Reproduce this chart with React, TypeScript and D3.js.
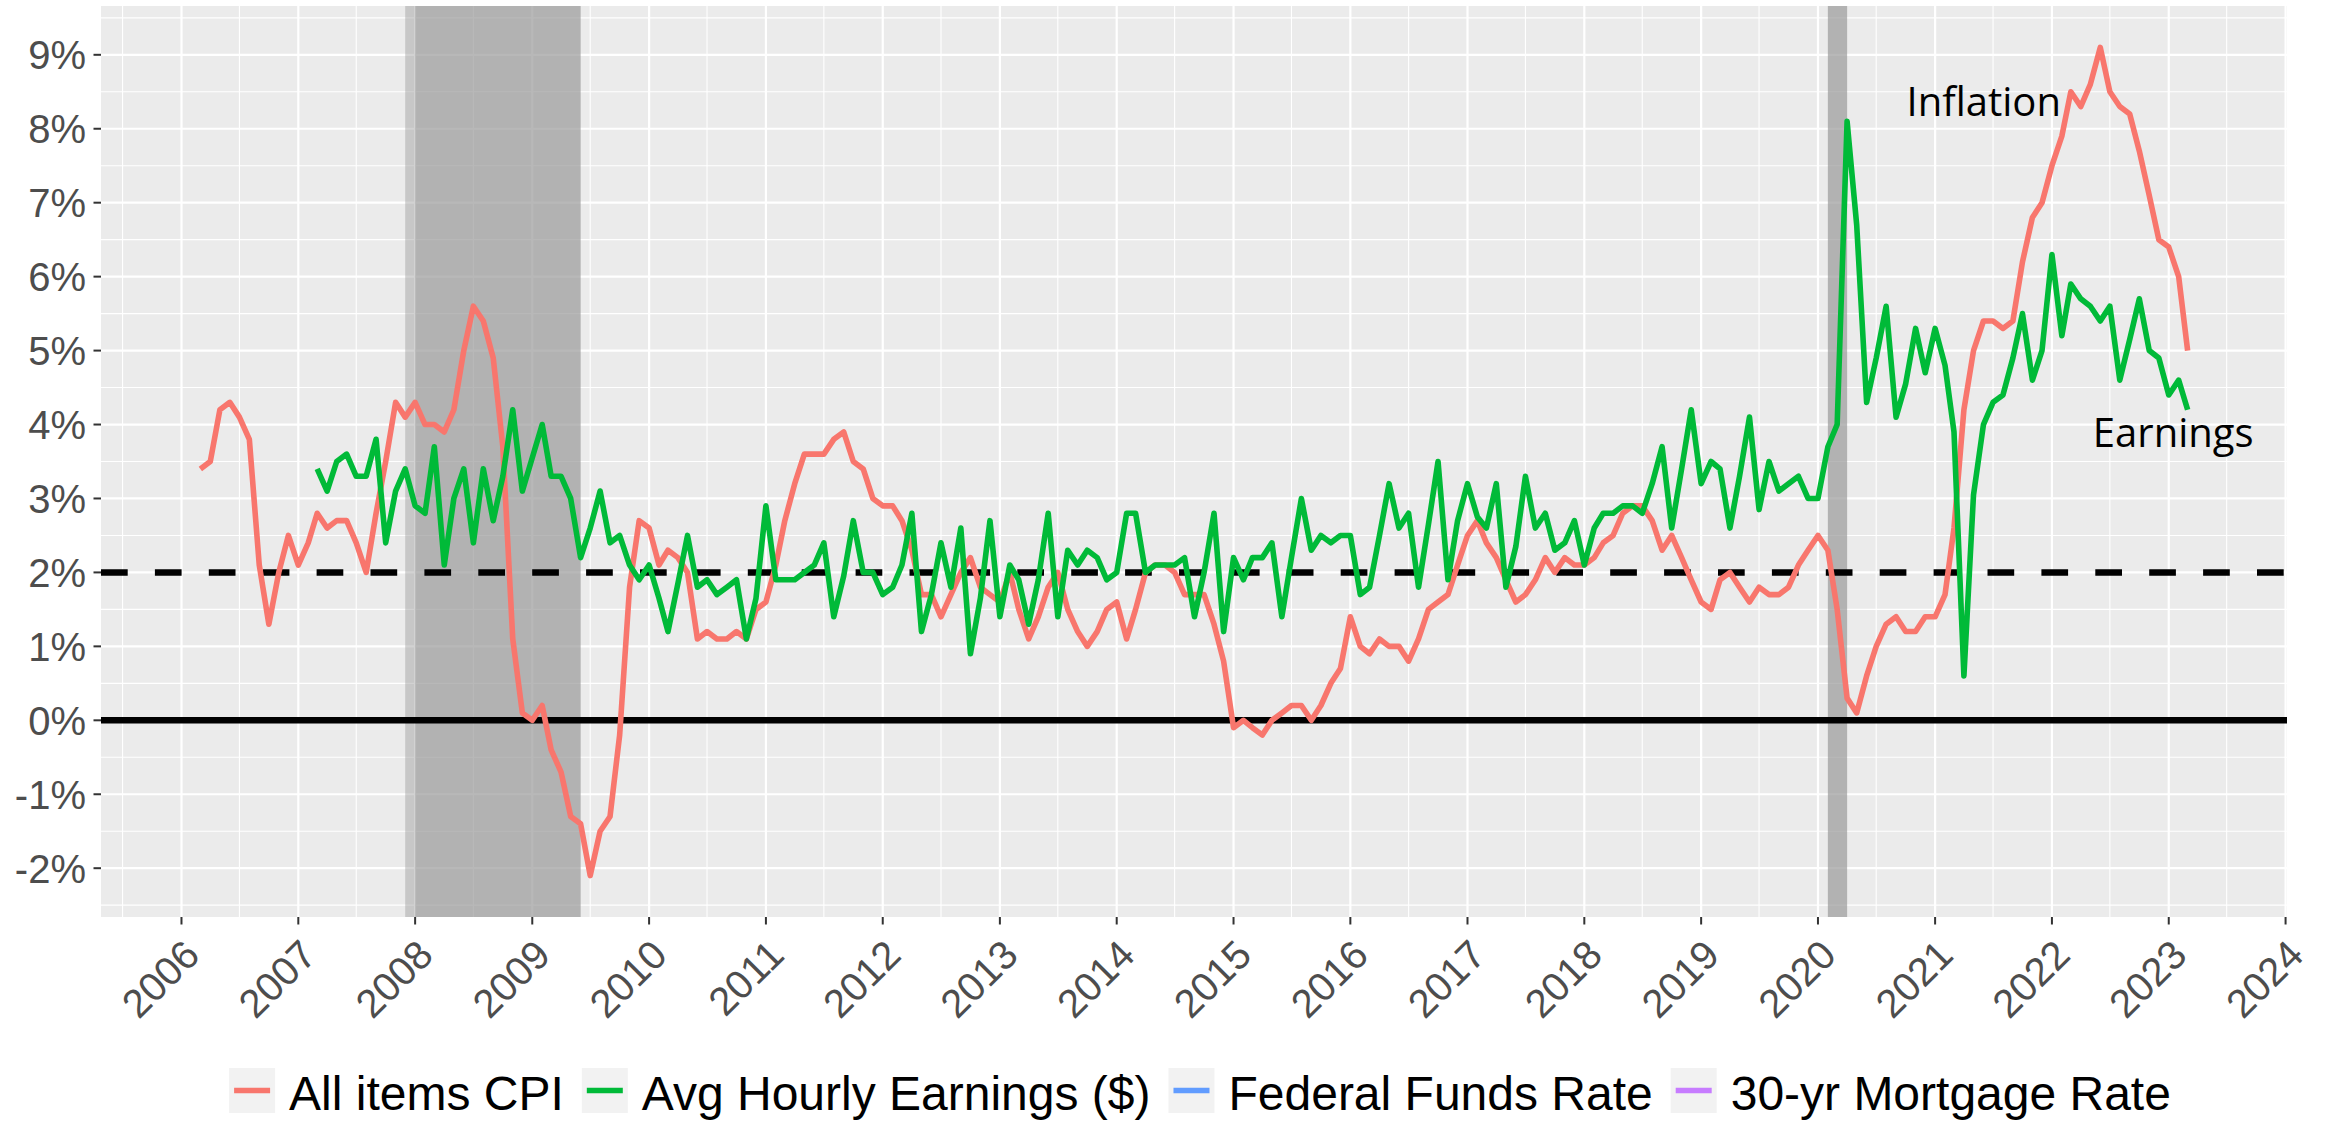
import React from "react";
import * as d3 from "d3";

// ---------- data ----------
const cpiStart = "2006-03-01";
const cpiValues = [
  3.4, 3.5, 4.2, 4.3, 4.1, 3.8, 2.1, 1.3, 2.0, 2.5,
  2.1, 2.4, 2.8, 2.6, 2.7, 2.7, 2.4, 2.0, 2.8, 3.5, 4.3, 4.1,
  4.3, 4.0, 4.0, 3.9, 4.2, 5.0, 5.6, 5.4, 4.9, 3.7, 1.1, 0.1,
  0.0, 0.2, -0.4, -0.7, -1.3, -1.4, -2.1, -1.5, -1.3, -0.2, 1.8, 2.7,
  2.6, 2.1, 2.3, 2.2, 2.0, 1.1, 1.2, 1.1, 1.1, 1.2, 1.1, 1.5,
  1.6, 2.1, 2.7, 3.2, 3.6, 3.6, 3.6, 3.8, 3.9, 3.5, 3.4, 3.0,
  2.9, 2.9, 2.7, 2.3, 1.7, 1.7, 1.4, 1.7, 2.0, 2.2, 1.8, 1.7,
  1.6, 2.0, 1.5, 1.1, 1.4, 1.8, 2.0, 1.5, 1.2, 1.0, 1.2, 1.5,
  1.6, 1.1, 1.5, 2.0, 2.1, 2.1, 2.0, 1.7, 1.7, 1.7, 1.3, 0.8,
  -0.1, 0.0, -0.1, -0.2, 0.0, 0.1, 0.2, 0.2, 0.0, 0.2, 0.5, 0.7,
  1.4, 1.0, 0.9, 1.1, 1.0, 1.0, 0.8, 1.1, 1.5, 1.6, 1.7, 2.1,
  2.5, 2.7, 2.4, 2.2, 1.9, 1.6, 1.7, 1.9, 2.2, 2.0, 2.2, 2.1,
  2.1, 2.2, 2.4, 2.5, 2.8, 2.9, 2.9, 2.7, 2.3, 2.5, 2.2, 1.9,
  1.6, 1.5, 1.9, 2.0, 1.8, 1.6, 1.8, 1.7, 1.7, 1.8, 2.1, 2.3,
  2.5, 2.3, 1.5, 0.3, 0.1, 0.6, 1.0, 1.3, 1.4, 1.2, 1.2, 1.4,
  1.4, 1.7, 2.6, 4.2, 5.0, 5.4, 5.4, 5.3, 5.4, 6.2, 6.8, 7.0,
  7.5, 7.9, 8.5, 8.3, 8.6, 9.1, 8.5, 8.3, 8.2, 7.7, 7.1, 6.5,
  6.4, 6.0, 5.0,
];

const earningsStart = "2007-03-01";
const earningsValues = [
  3.4, 3.1, 3.5, 3.6, 3.3, 3.3, 3.8, 2.4, 3.1, 3.4,
  2.9, 2.8, 3.7, 2.1, 3.0, 3.4, 2.4, 3.4, 2.7, 3.3, 4.2, 3.1,
  3.55, 4.0, 3.3, 3.3, 3.0, 2.2, 2.6, 3.1, 2.4, 2.5, 2.1, 1.9,
  2.1, 1.65, 1.2, 1.85, 2.5, 1.8, 1.9, 1.7, 1.8, 1.9, 1.1, 1.65,
  2.9, 1.9, 1.9, 1.9, 2.0, 2.1, 2.4, 1.4, 1.95, 2.7, 2.0, 2.0,
  1.7, 1.8, 2.1, 2.8, 1.2, 1.7, 2.4, 1.8, 2.6, 0.9, 1.65, 2.7,
  1.4, 2.1, 1.9, 1.3, 1.9, 2.8, 1.4, 2.3, 2.1, 2.3, 2.2, 1.9,
  2.0, 2.8, 2.8, 2.0, 2.1, 2.1, 2.1, 2.2, 1.4, 2.0, 2.8, 1.2,
  2.2, 1.9, 2.2, 2.2, 2.4, 1.4, 2.2, 3.0, 2.3, 2.5, 2.4, 2.5,
  2.5, 1.7, 1.8, 2.5, 3.2, 2.6, 2.8, 1.8, 2.65, 3.5, 1.9, 2.7,
  3.2, 2.75, 2.6, 3.2, 1.8, 2.35, 3.3, 2.6, 2.8, 2.3, 2.4, 2.7,
  2.1, 2.6, 2.8, 2.8, 2.9, 2.9, 2.8, 3.2, 3.7, 2.6, 3.4, 4.2,
  3.2, 3.5, 3.4, 2.6, 3.3, 4.1, 2.85, 3.5, 3.1, 3.2, 3.3, 3.0,
  3.0, 3.7, 4.0, 8.1, 6.7, 4.3, 4.9, 5.6, 4.1, 4.55, 5.3, 4.7,
  5.3, 4.8, 3.9, 0.6, 3.05, 4.0, 4.3, 4.4, 4.9, 5.5, 4.6, 5.0,
  6.3, 5.2, 5.9, 5.7, 5.6, 5.4, 5.6, 4.6, 5.15, 5.7, 5.0, 4.9,
  4.4, 4.6, 4.2,
];

const seriesNames = ["All items CPI", "Avg Hourly Earnings ($)", "Federal Funds Rate", "30-yr Mortgage Rate"];
const seriesColors = ["#F8766D", "#00BA38", "#619CFF", "#C77CFF"];

const yTickValues = [-2, -1, 0, 1, 2, 3, 4, 5, 6, 7, 8, 9];
const xTickYears = d3.range(2006, 2025);

// shaded recession layers (semi-transparent, overlapping)
const recessionLayers = [
  { start: "2007-12-01", end: "2009-06-01" },
  { start: "2008-01-01", end: "2009-06-01" },
  { start: "2020-02-01", end: "2020-04-01" },
  { start: "2020-02-01", end: "2020-04-01" },
];

const refLines = [
  { value: 0, dashed: false },
  { value: 2, dashed: true },
];

const annotations = [
  { label: "Inflation", date: "2021-06-02", value: 8.17 },
  { label: "Earnings", date: "2023-01-15", value: 3.69 },
];

// ---------- layout ----------
const W = 2329;
const H = 1122;
const P = { left: 101, right: 2287, top: 6, bottom: 917 };
const AXIS_FONT = "'Liberation Sans', Arial, sans-serif";
const AXIS_SIZE = 40;
const LEGEND_SIZE = 48;
const SERIES_WIDTH = 5.6;

const parse = d3.timeParse("%Y-%m-%d");
type Pt = { date: Date; value: number };
const monthly = (start: string, values: number[]): Pt[] =>
  values.map((v, i) => ({ date: d3.timeMonth.offset(parse(start) as Date, i), value: v }));

function measure(text: string, font: string): number {
  const c = document.createElement("canvas").getContext("2d");
  if (!c) return text.length * 25;
  c.font = font;
  return c.measureText(text).width;
}

export default function App() {
  const cpi = monthly(cpiStart, cpiValues);
  const earn = monthly(earningsStart, earningsValues);
  const all = [...cpi, ...earn];

  const [d0, d1] = d3.extent(all, (d) => +d.date) as [number, number];
  const dSpan = d1 - d0;
  const x = d3
    .scaleTime()
    .domain([new Date(d0 - dSpan * 0.05), new Date(d1 + dSpan * 0.05)])
    .range([P.left, P.right]);

  const [v0, v1] = d3.extent(all, (d) => d.value) as [number, number];
  const vSpan = v1 - v0;
  const y = d3
    .scaleLinear()
    .domain([v0 - vSpan * 0.05, v1 + vSpan * 0.05])
    .range([P.bottom, P.top]);

  const line = d3
    .line<Pt>()
    .x((d) => x(d.date))
    .y((d) => y(d.value));

  const [yLo, yHi] = y.domain();
  const yMinor = d3.range(Math.ceil(yLo - 0.5) + 0.5, yHi, 1).filter((v) => v > yLo && v < yHi);
  const xDom = x.domain();
  const xMinor = d3
    .range(2005, 2025)
    .map((yr) => new Date(yr, 6, 1))
    .filter((d) => d > xDom[0] && d < xDom[1]);
  const xMajor = xTickYears.map((yr) => new Date(yr, 0, 1));

  // legend layout
  const legendFont = `${LEGEND_SIZE}px 'Liberation Sans', Arial, sans-serif`;
  const keyW = 46;
  const keyH = 45;
  const keyGap = 14;
  const itemGap = 18;
  const textWidths = seriesNames.map((s) => measure(s, legendFont));
  const totalW = d3.sum(textWidths) + seriesNames.length * (keyW + keyGap) + (seriesNames.length - 1) * itemGap;
  let cursor = 1200 - totalW / 2;
  const legendItems = seriesNames.map((name, i) => {
    const kx = cursor;
    cursor += keyW + keyGap + textWidths[i] + itemGap;
    return { name, color: seriesColors[i], kx };
  });
  const keyTop = 1068;

  const capOff = 0.707 * 0.716 * AXIS_SIZE;

  return (
    <svg
      width={W}
      height={H}
      viewBox={`0 0 ${W} ${H}`}
      style={{ position: "absolute", left: 0, top: 0, background: "#FFFFFF" }}
    >
      <rect x={0} y={0} width={W} height={H} fill="#FFFFFF" />
      {/* panel */}
      <rect x={P.left} y={P.top} width={P.right - P.left} height={P.bottom - P.top} fill="#EBEBEB" />
      {/* minor grid */}
      {yMinor.map((v) => (
        <line key={"ym" + v} x1={P.left} x2={P.right} y1={y(v)} y2={y(v)} stroke="#FFFFFF" strokeWidth={1.1} />
      ))}
      {xMinor.map((d) => (
        <line key={"xm" + +d} x1={x(d)} x2={x(d)} y1={P.top} y2={P.bottom} stroke="#FFFFFF" strokeWidth={1.1} />
      ))}
      {/* major grid */}
      {yTickValues.map((v) => (
        <line key={"yM" + v} x1={P.left} x2={P.right} y1={y(v)} y2={y(v)} stroke="#FFFFFF" strokeWidth={2.2} />
      ))}
      {xMajor.map((d) => (
        <line key={"xM" + +d} x1={x(d)} x2={x(d)} y1={P.top} y2={P.bottom} stroke="#FFFFFF" strokeWidth={2.2} />
      ))}
      {/* recessions */}
      {recessionLayers.map((r, i) => {
        const xa = x(parse(r.start) as Date);
        const xb = x(parse(r.end) as Date);
        return (
          <rect key={"rec" + i} x={xa} y={P.top} width={xb - xa} height={P.bottom - P.top} fill="#969696" fillOpacity={0.43} />
        );
      })}
      {/* reference lines */}
      {refLines.map((r) => (
        <line
          key={"ref" + r.value}
          x1={P.left}
          x2={P.right}
          y1={y(r.value)}
          y2={y(r.value)}
          stroke="#000000"
          strokeWidth={6.5}
          strokeDasharray={r.dashed ? "26.7 27.2" : undefined}
        />
      ))}
      {/* series */}
      <path d={line(cpi) || ""} fill="none" stroke={seriesColors[0]} strokeWidth={SERIES_WIDTH} strokeLinejoin="round" />
      <path d={line(earn) || ""} fill="none" stroke={seriesColors[1]} strokeWidth={SERIES_WIDTH} strokeLinejoin="round" />
      {/* annotations */}
      {annotations.map((a) => (
        <text
          key={a.label}
          x={x(parse(a.date) as Date)}
          y={y(a.value)}
          textAnchor="middle"
          fontFamily="'Open Sans', sans-serif"
          fontSize={40}
          fill="#000000"
        >
          {a.label}
        </text>
      ))}
      {/* y axis */}
      {yTickValues.map((v) => (
        <g key={"yt" + v}>
          <line x1={93.5} x2={P.left} y1={y(v)} y2={y(v)} stroke="#333333" strokeWidth={2} />
          <text
            x={86}
            y={y(v) + 0.358 * AXIS_SIZE}
            textAnchor="end"
            fontFamily={AXIS_FONT}
            fontSize={AXIS_SIZE}
            fill="#4D4D4D"
          >
            {`${v}%`}
          </text>
        </g>
      ))}
      {/* x axis */}
      {xMajor.map((d, i) => {
        const tx = x(d);
        const bx = tx + capOff;
        const by = 937 + capOff;
        return (
          <g key={"xt" + i}>
            <line x1={tx} x2={tx} y1={P.bottom} y2={P.bottom + 7.5} stroke="#333333" strokeWidth={2} />
            <text
              x={bx}
              y={by}
              transform={`rotate(-45 ${bx} ${by})`}
              textAnchor="end"
              fontFamily={AXIS_FONT}
              fontSize={AXIS_SIZE}
              fill="#4D4D4D"
            >
              {xTickYears[i]}
            </text>
          </g>
        );
      })}
      {/* legend */}
      {legendItems.map((it) => (
        <g key={it.name}>
          <rect x={it.kx} y={keyTop} width={keyW} height={keyH} fill="#F2F2F2" />
          <line
            x1={it.kx + 5}
            x2={it.kx + keyW - 5}
            y1={keyTop + keyH / 2}
            y2={keyTop + keyH / 2}
            stroke={it.color}
            strokeWidth={SERIES_WIDTH}
          />
          <text
            x={it.kx + keyW + keyGap}
            y={1110}
            fontFamily={AXIS_FONT}
            fontSize={LEGEND_SIZE}
            fill="#000000"
          >
            {it.name}
          </text>
        </g>
      ))}
    </svg>
  );
}
